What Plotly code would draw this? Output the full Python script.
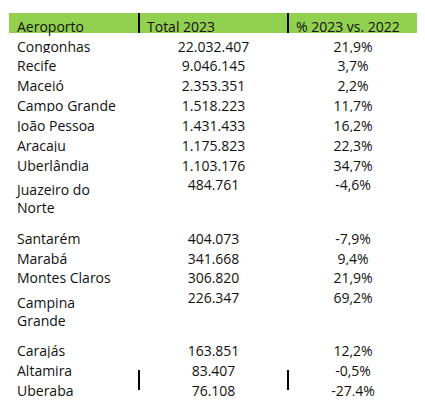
import plotly.graph_objects as go

# Table data
aeroportos = ["Congonhas", "Recife", "Maceió", "Campo Grande", "João Pessoa", "Aracaju",
              "Uberlândia", "Juazeiro do Norte", "Santarém", "Marabá", "Montes Claros",
              "Campina Grande", "Carajás", "Altamira", "Uberaba", "Ponta Porã", "Corumbá"]
total_2023 = ["22.032.407", "9.046.145", "2.353.351", "1.518.223", "1.431.433", "1.175.823",
              "1.103.176", "484.761", "404.073", "341.668", "306.820", "226.347", "163.851",
              "83.407", "76.108", "66.189", "33.650"]
variacao = ["21,9%", "3,7%", "2,2%", "11,7%", "16,2%", "22,3%", "34,7%", "-4,6%", "-7,9%",
            "9,4%", "21,9%", "69,2%", "12,2%", "-0,5%", "-27,4%", "14,1%", "-32,0%"]
headers = ["Aeroporto", "Total 2023", "% 2023 vs. 2022"]
total_row = ["Total", "40.847.432", "14,8%"]

green = "#92D050"
n = len(aeroportos)
fills = ["white"] * n + [green]
off = 8  # page body margin

fig = go.Figure(go.Table(
    domain=dict(x=[(9 - off) / 425, (418 - off) / 425], y=[(20 - off) / 400, 1 - (13 - off) / 400]),
    columnwidth=[130, 149, 130],
    header=dict(values=headers, fill_color=green, line=dict(width=0, color=green),
                align="left", height=20,
                font=dict(family="Open Sans", size=14, color="#111")),
    cells=dict(values=[aeroportos + [total_row[0]], total_2023 + [total_row[1]],
                       variacao + [total_row[2]]],
               fill_color=[fills, fills, fills], line=dict(width=0, color="white"),
               align=["left", "center", "center"], height=19.85,
               font=dict(family="Open Sans", size=14, color="#111")),
))

# column dividers in header and total rows
for xd in [139, 288]:
    for y0, y1 in [(13, 33), (370, 390)]:
        fig.add_shape(type="line", xref="paper", yref="paper",
                      x0=(xd - off) / 425, x1=(xd - off) / 425,
                      y0=1 - (y0 - off) / 400, y1=1 - (y1 - off) / 400,
                      line=dict(color="black", width=2))

fig.update_layout(width=425, height=400, margin=dict(l=0, r=0, t=0, b=0),
                  paper_bgcolor="white")
fig.write_html("out.html")
